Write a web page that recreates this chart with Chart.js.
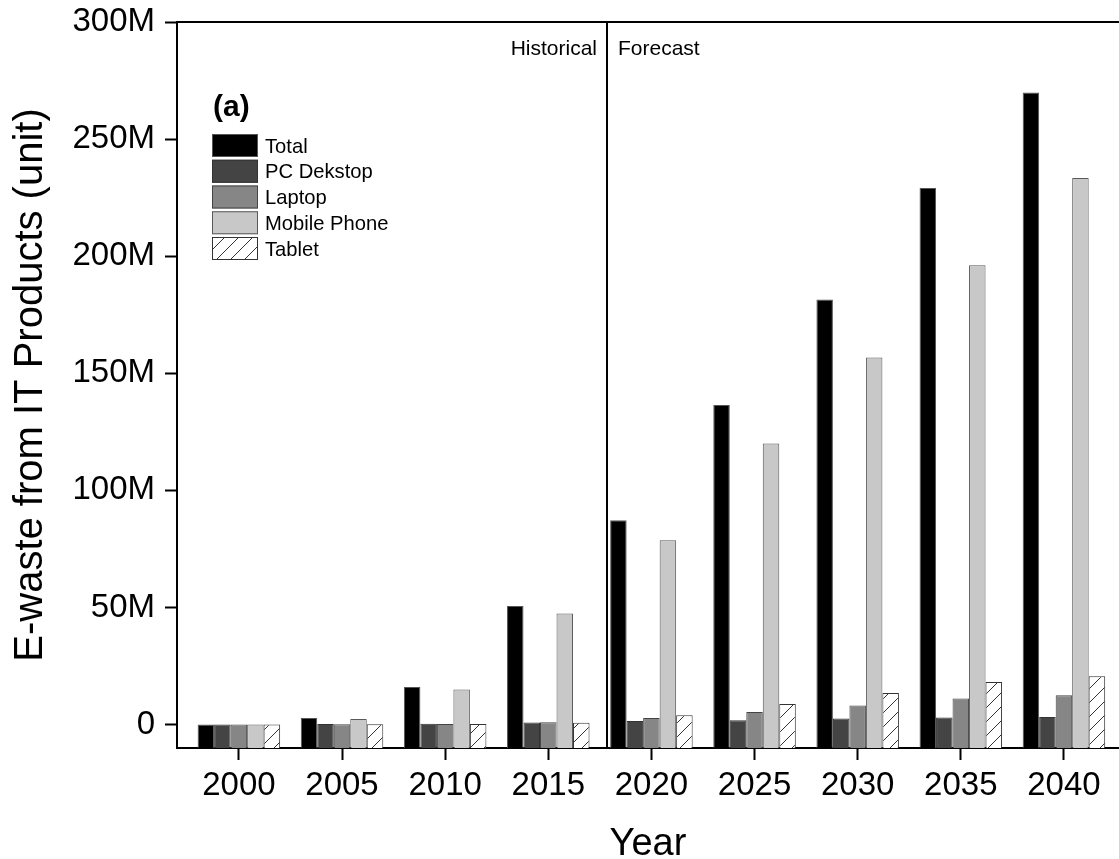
<!DOCTYPE html>
<html>
<head>
<meta charset="utf-8">
<script src="https://cdn.jsdelivr.net/npm/chart.js@4/dist/chart.umd.min.js"></script>
<style>
  html, body { margin: 0; padding: 0; background: #fff; }
  #wrap { width: 1119px; height: 859px; }
</style>
</head>
<body>
<div id="wrap"><canvas id="c" width="1119" height="859"></canvas></div>
<script>
// ---- data (values in millions of units) ----
const years = [2000, 2005, 2010, 2015, 2020, 2025, 2030, 2035, 2040];
const totalM  = [0, 2.8, 16.1, 50.6, 87.2, 136.5, 181.5, 229.1, 269.9];
const pcDesktopM = [0, 0.3, 0.4, 0.9, 1.5, 1.8, 2.6, 3.0, 3.2];
const laptopM = [0, 0.1, 0.2, 1.0, 2.8, 5.4, 8.2, 11.1, 12.5];
const mobileM = [0, 2.4, 15.0, 47.4, 78.7, 120.0, 156.7, 196.1, 233.4];
const tabletM = [0, 0.1, 0.2, 0.8, 4.0, 8.8, 13.5, 18.2, 20.6];
const seriesLabels = ['Total', 'PC Dekstop', 'Laptop', 'Mobile Phone', 'Tablet'];
const yTicks = [0, 50, 100, 150, 200, 250, 300];
const yTickLabels = ['0', '50M', '100M', '150M', '200M', '250M', '300M'];
const yMin = -10, yMax = 300;
const xMin = 1997, xMax = 2042.67;
const dividerYear = 2017.85;
const historicalText = 'Historical';
const forecastText = 'Forecast';
const panelText = '(a)';

const FONT = "'Liberation Sans', Arial, Helvetica, sans-serif";

const canvas = document.getElementById('c');
const ctx = canvas.getContext('2d');

function makeHatch() {
  const s = 14;
  const t = document.createElement('canvas');
  t.width = s; t.height = s;
  const g = t.getContext('2d');
  g.fillStyle = '#ffffff';
  g.fillRect(0, 0, s, s);
  g.strokeStyle = '#333333';
  g.lineWidth = 1;
  g.beginPath();
  g.moveTo(0, s); g.lineTo(s, 0);
  g.moveTo(-s, s); g.lineTo(s, -s);
  g.moveTo(0, 2 * s); g.lineTo(2 * s, 0);
  g.stroke();
  return ctx.createPattern(t, 'repeat');
}
const hatch = makeHatch();

const seriesValues = [totalM, pcDesktopM, laptopM, mobileM, tabletM];
const fills = ['#000000', '#444444', '#868686', '#c8c8c8', hatch];
const borders = ['#555555', '#333333', '#444444', '#5a5a5a', '#333333'];

const datasets = seriesLabels.map((lab, i) => ({
  label: lab,
  data: years.map((yr, j) => ({ x: yr, y: seriesValues[i][j] })),
  backgroundColor: fills[i],
  borderColor: borders[i],
  borderWidth: 1,
  base: yMin,
  categoryPercentage: 0.8,
  barPercentage: 1.0
}));

const decorPlugin = {
  id: 'decor',
  afterDraw(chart) {
    const { ctx, chartArea } = chart;
    const xs = chart.scales.x;
    ctx.save();
    // top frame line
    ctx.strokeStyle = '#000';
    ctx.lineWidth = 2;
    ctx.beginPath();
    ctx.moveTo(chartArea.left, chartArea.top);
    ctx.lineTo(chartArea.right, chartArea.top);
    ctx.stroke();
    // divider
    const dx = Math.round(xs.getPixelForValue(dividerYear));
    ctx.beginPath();
    ctx.moveTo(dx, chartArea.top);
    ctx.lineTo(dx, chartArea.bottom);
    ctx.stroke();
    // Historical / Forecast
    ctx.fillStyle = '#000';
    ctx.font = '21px ' + FONT;
    ctx.textBaseline = 'alphabetic';
    ctx.textAlign = 'right';
    ctx.fillText(historicalText, dx - 10, chartArea.top + 33);
    ctx.textAlign = 'left';
    ctx.fillText(forecastText, dx + 11, chartArea.top + 33);
    // panel label
    ctx.font = 'bold 30px ' + FONT;
    ctx.textAlign = 'left';
    ctx.fillText(panelText, chartArea.left + 36, chartArea.top + 94);
    // legend
    const bx = chartArea.left + 35, bw = 46, bh = 23, step = 25.75;
    const by0 = chartArea.top + 112;
    ctx.font = '20.2px ' + FONT;
    chart.data.datasets.forEach((ds, i) => {
      const by = by0 + i * step;
      ctx.fillStyle = ds.backgroundColor;
      ctx.fillRect(bx, by, bw, bh);
      ctx.strokeStyle = ds.borderColor;
      ctx.lineWidth = 1;
      ctx.strokeRect(bx + 0.5, by + 0.5, bw - 1, bh - 1);
      ctx.fillStyle = '#000';
      ctx.textAlign = 'left';
      ctx.textBaseline = 'alphabetic';
      ctx.fillText(ds.label, bx + bw + 7, by + 18.5);
    });
    ctx.restore();
  }
};

new Chart(canvas, {
  type: 'bar',
  data: { datasets },
  options: {
    responsive: false,
    animation: false,
    layout: { padding: { left: 0, right: 0, top: 22, bottom: 0 } },
    plugins: { legend: { display: false }, tooltip: { enabled: false } },
    scales: {
      x: {
        type: 'linear',
        min: xMin, max: xMax,
        offset: false,
        grid: { offset: false, drawOnChartArea: false, drawTicks: true, tickLength: 12, tickWidth: 2, tickColor: '#000' },
        border: { display: true, color: '#000', width: 2 },
        ticks: { color: '#000', font: { family: FONT, size: 33 }, padding: 6, maxRotation: 0, autoSkip: false,
                 callback: (v) => String(v) },
        afterBuildTicks: (s) => { s.ticks = years.map(v => ({ value: v })); },
        afterFit: (s) => { s.height = 111; s.paddingLeft = 0; s.paddingRight = 0; },
        title: { display: true, text: 'Year', color: '#000', font: { family: FONT, size: 38 }, padding: { top: 0, bottom: -8 } }
      },
      y: {
        min: yMin, max: yMax,
        grid: { drawOnChartArea: false, drawTicks: true, tickLength: 12, tickWidth: 2, tickColor: '#000' },
        border: { display: true, color: '#000', width: 2 },
        ticks: { color: '#000', font: { family: FONT, size: 33 }, padding: 10,
                 callback: (v) => { const k = yTicks.indexOf(v); return k >= 0 ? yTickLabels[k] : ''; } },
        afterBuildTicks: (s) => { s.ticks = yTicks.map(v => ({ value: v })); },
        afterFit: (s) => { s.width = 177; s.paddingTop = 0; s.paddingBottom = 0; },
        title: { display: true, text: 'E-waste from IT Products (unit)', color: '#000', font: { family: FONT, size: 40 }, padding: { top: 7, bottom: 0 } }
      }
    }
  },
  plugins: [decorPlugin]
});
</script>
</body>
</html>
